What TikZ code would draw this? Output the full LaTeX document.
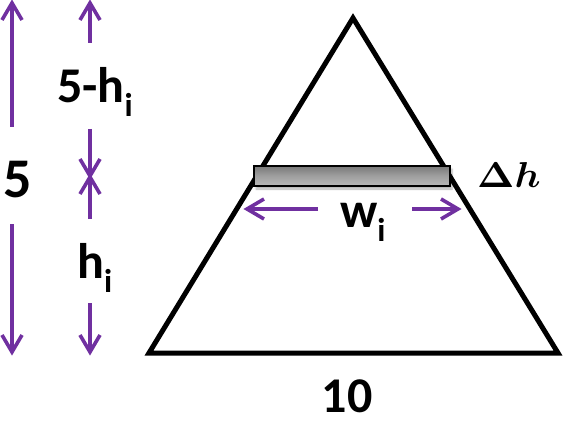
\documentclass[tikz,border=0pt]{standalone}
\usepackage{fontspec}
\usepackage{amsmath}
\setmainfont{Carlito}
\usetikzlibrary{calc,shadows,shadows.blur}
\definecolor{pur}{HTML}{7030A0}
\newcommand{\sbi}{\raisebox{-14pt}{\fontsize{33}{33}\selectfont i}}
\newcommand{\dimarr}[2]{%
  \draw[dimline] (#1) -- (#2);
  \draw[dimline, line join=miter] ($(#2)!17pt!(#1)!10pt!90:(#2)$) -- (#2) -- ($(#2)!17pt!(#1)!10pt!-90:(#2)$);}
\tikzset{
  dimline/.style={draw=pur, line width=3.6pt},
  lbl/.style={inner sep=0pt, font=\fontsize{50}{50}\selectfont\bfseries},
  tri/.style={line width=5pt, line join=miter},
}
\begin{document}
\begin{tikzpicture}[x=1pt,y=-1pt]
\useasboundingbox (0,0) rectangle (568,425);
% triangle
\coordinate (A) at (353,18);
\coordinate (B) at (149,353);
\coordinate (C) at (558,353);
\draw[tri] (A) -- (B) -- (C) -- cycle;
% bar
\node[name=bar, draw=black, line width=1.5pt, minimum width=196pt, minimum height=20pt, inner sep=0pt,
  top color=gray!95!black, bottom color=gray!55, middle color=gray!75,
  blur shadow={shadow blur steps=5, shadow xshift=2pt, shadow yshift=-3pt, shadow opacity=30}]
  at (352,176) {};
% labels
\node[lbl, anchor=base] (five) at (17.5,197) {\fontsize{56}{56}\selectfont 5};
\node[lbl, anchor=base west] (fmh) at (57,103) {5-h\sbi};
\node[lbl, anchor=base west] (hi) at (77,278) {h\sbi};
\node[lbl, anchor=base west] (wi) at (340,227) {w\sbi};
\node[lbl, anchor=base] (ten) at (347,412) {10};
\node[inner sep=0pt, anchor=base west] (dh) at (477,188) {\scalebox{3.9}[3.6]{$\boldsymbol{\Delta h}$}};
% arrow coordinates
\coordinate (a1s) at (12,127); \coordinate (a1e) at (12,3);
\coordinate (a2s) at (12,224); \coordinate (a2e) at (12,352);
\coordinate (b1s) at (90,43);  \coordinate (b1e) at (90,3);
\coordinate (b2s) at (90,129); \coordinate (b2e) at (90,176);
\coordinate (b3s) at (90,219); \coordinate (b3e) at (90,177);
\coordinate (b4s) at (90,303); \coordinate (b4e) at (90,352);
\coordinate (w1s) at (318,209); \coordinate (w1e) at (247,209);
\coordinate (w2s) at (412,209); \coordinate (w2e) at (458,209);
\dimarr{a1s}{a1e}
\dimarr{a2s}{a2e}
\dimarr{b1s}{b1e}
\dimarr{b2s}{b2e}
\dimarr{b3s}{b3e}
\dimarr{b4s}{b4e}
\dimarr{w1s}{w1e}
\dimarr{w2s}{w2e}
\end{tikzpicture}
\end{document}
